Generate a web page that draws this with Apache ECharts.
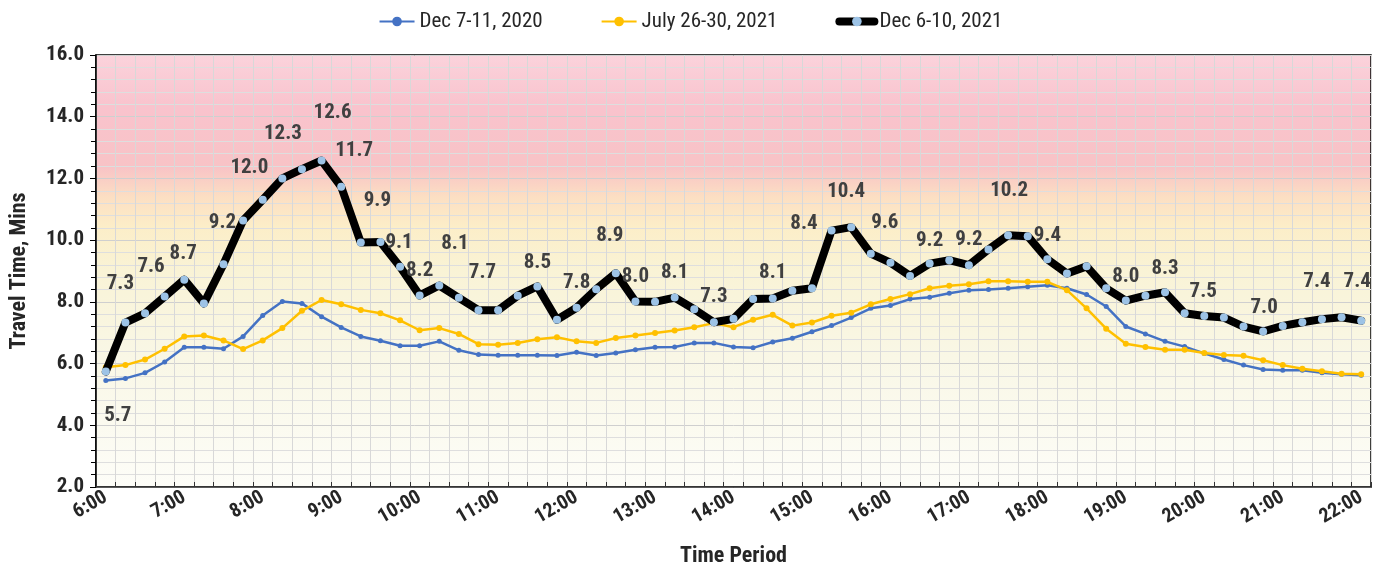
<!DOCTYPE html>
<html>
<head>
<meta charset="utf-8">
<script src="https://cdn.jsdelivr.net/npm/echarts@6/dist/echarts.min.js"></script>
<style>
html,body{margin:0;padding:0;background:#fff;}
#c{width:1381px;height:572px;}
</style>
</head>
<body>
<div id="c"></div>
<script>
const categories = [
"6:00","6:15","6:30","6:45","7:00","7:15","7:30","7:45",
"8:00","8:15","8:30","8:45","9:00","9:15","9:30","9:45",
"10:00","10:15","10:30","10:45","11:00","11:15","11:30","11:45",
"12:00","12:15","12:30","12:45","13:00","13:15","13:30","13:45",
"14:00","14:15","14:30","14:45","15:00","15:15","15:30","15:45",
"16:00","16:15","16:30","16:45","17:00","17:15","17:30","17:45",
"18:00","18:15","18:30","18:45","19:00","19:15","19:30","19:45",
"20:00","20:15","20:30","20:45","21:00","21:15","21:30","21:45","22:00"];

const seriesNames = ["Dec 7-11, 2020", "July 26-30, 2021", "Dec 6-10, 2021"];

const dec2020 = [
5.45,5.52,5.70,6.05,6.53,6.53,6.48,6.88,
7.56,8.01,7.95,7.52,7.17,6.88,6.74,6.58,
6.58,6.72,6.43,6.29,6.27,6.27,6.27,6.26,
6.37,6.26,6.34,6.45,6.53,6.54,6.67,6.67,
6.54,6.51,6.70,6.82,7.03,7.23,7.49,7.79,
7.88,8.09,8.15,8.28,8.38,8.40,8.44,8.49,
8.54,8.44,8.24,7.85,7.20,6.96,6.72,6.55,
6.33,6.13,5.95,5.81,5.78,5.78,5.70,5.65,5.62];

const jul2021 = [
5.88,5.95,6.13,6.48,6.88,6.91,6.75,6.47,
6.75,7.15,7.71,8.06,7.92,7.74,7.63,7.40,
7.08,7.15,6.96,6.63,6.61,6.67,6.79,6.85,
6.72,6.67,6.83,6.91,6.99,7.07,7.18,7.31,
7.18,7.42,7.58,7.23,7.33,7.55,7.65,7.92,
8.09,8.25,8.44,8.52,8.57,8.67,8.67,8.65,
8.65,8.38,7.79,7.13,6.64,6.54,6.45,6.45,
6.34,6.28,6.25,6.11,5.95,5.83,5.75,5.67,5.65];

const dec2021 = [
5.74,7.33,7.63,8.17,8.72,7.95,9.22,10.64,
11.31,12.0,12.3,12.58,11.73,9.92,9.94,9.14,
8.21,8.53,8.13,7.73,7.73,8.2,8.5,7.42,
7.81,8.41,8.93,8.01,8.0,8.14,7.76,7.34,
7.45,8.09,8.11,8.36,8.44,10.31,10.42,9.56,
9.27,8.84,9.24,9.35,9.19,9.70,10.16,10.13,
9.38,8.92,9.15,8.44,8.04,8.20,8.31,7.63,
7.54,7.49,7.20,7.04,7.22,7.34,7.44,7.50,7.39];

const yTicks = [2, 16, 2]; // min, max, interval

// indices of the Dec 6-10, 2021 points that carry a value label
const labelledPoints = [0,1,2,4,6,9,10,11,12,14,15,16,18,19,22,24,26,27,29,31,34,36,38,39,42,44,46,48,52,54,56,59,62,64];

// label nudges (style only): [dx, dy] from the point centre
const labelNudge = {
  0:[12,44],1:[-5,-39],2:[6,-47],4:[-1,-26],6:[-1,-41],9:[-33,-11],10:[-19,-35],
  11:[11,-48],12:[13,-36],14:[-3,-41],15:[-1,-24],16:[0,-25],18:[-4,-54],19:[4,-37],
  22:[0,-24],24:[0,-25],26:[-6,-37],27:[0,-25],29:[0,-25],31:[0,-25],34:[0,-26],
  36:[-8,-65],38:[-5,-35],39:[14,-31],42:[0,-23],44:[0,-25],46:[1,-44],48:[0,-24],
  52:[0,-24],54:[0,-24],56:[-1,-24],59:[1,-24],62:[-5,-37],64:[-4,-39]
};

const FONT = "'Liberation Sans Narrow','Roboto Condensed','Liberation Sans',Lato,sans-serif";

const chart = echarts.init(document.getElementById('c'), null, {renderer:'canvas'});

const blackData = dec2021.map((v, i) => {
  if (labelledPoints.indexOf(i) >= 0) {
    return {
      value: v,
      label: {
        show: true,
        position: 'inside',
        offset: labelNudge[i] || [0,-25],
        formatter: p => Number(p.value).toFixed(1),
        fontFamily: FONT, fontWeight: 'bold', fontSize: 21, color: '#404040'
      }
    };
  }
  return v;
});

const option = {
  backgroundColor: '#ffffff',
  animation: false,
  legend: {
    top: 6,
    left: 'center',
    itemWidth: 35,
    itemHeight: 12,
    itemGap: 58,
    textStyle: {fontFamily: FONT, fontSize: 21, color: '#262626'},
    data: [
      {name: seriesNames[0]},
      {name: seriesNames[1]},
      {name: seriesNames[2], lineStyle: {width: 8, color: '#000'}, itemStyle: {color: '#9DC3E6'}}
    ]
  },
  grid: {
    left: 93, right: 10, top: 55, bottom: 82,
    show: true,
    borderColor: '#000',
    borderWidth: 1.5,
    backgroundColor: new echarts.graphic.LinearGradient(0, 0, 0, 1, [
      {offset: 0, color: '#FBD3DC'},
      {offset: 0.12, color: '#F9C3CD'},
      {offset: 0.26, color: '#F8C3C6'},
      {offset: 0.33, color: '#FCDFC3'},
      {offset: 0.40, color: '#FCEEC8'},
      {offset: 0.50, color: '#F9F3D6'},
      {offset: 0.70, color: '#F9F7E6'},
      {offset: 1, color: '#FDFDF8'}
    ])
  },
  xAxis: {
    type: 'category',
    data: categories,
    boundaryGap: true,
    name: 'Time Period',
    nameLocation: 'middle',
    nameGap: 58,
    nameTextStyle: {fontFamily: FONT, fontWeight: 'bold', fontSize: 22, color: '#262626'},
    axisLine: {lineStyle: {color: '#333', width: 1.5}},
    axisTick: {show: true, interval: 0, inside: true, length: 5, lineStyle: {color: '#333'}},
    axisLabel: {
      interval: 3,
      rotate: 30,
      margin: 9,
      fontFamily: FONT, fontWeight: 'bold', fontSize: 20, color: '#262626'
    },
    splitLine: {show: true, interval: 0, lineStyle: {color: '#D8D8D8', width: 1}}
  },
  yAxis: {
    type: 'value',
    min: yTicks[0], max: yTicks[1], interval: yTicks[2],
    name: 'Travel Time, Mins',
    nameLocation: 'middle',
    nameGap: 66,
    nameTextStyle: {fontFamily: FONT, fontWeight: 'bold', fontSize: 22, color: '#262626'},
    axisLine: {show: true, lineStyle: {color: '#000', width: 1.5}},
    axisTick: {show: true, length: 6, lineStyle: {color: '#000'}},
    minorTick: {show: true, splitNumber: 5, length: 5, lineStyle: {color: '#000'}},
    axisLabel: {
      formatter: v => v.toFixed(1),
      margin: 12,
      fontFamily: FONT, fontWeight: 'bold', fontSize: 21, color: '#262626'
    },
    splitLine: {show: true, lineStyle: {color: '#CFCFCF', width: 1}},
    minorSplitLine: {show: true, lineStyle: {color: '#DEDEDE', width: 1}}
  },
  series: [
    {
      name: seriesNames[0], type: 'line', data: dec2020,
      symbol: 'circle', symbolSize: 5,
      itemStyle: {color: '#4472C4'},
      lineStyle: {color: '#4472C4', width: 2.5},
      z: 3
    },
    {
      name: seriesNames[1], type: 'line', data: jul2021,
      symbol: 'circle', symbolSize: 6,
      itemStyle: {color: '#FFC000'},
      lineStyle: {color: '#FFC000', width: 2.5},
      z: 4
    },
    {
      name: seriesNames[2], type: 'line', data: blackData,
      symbol: 'circle', symbolSize: 8,
      itemStyle: {color: '#9DC3E6', borderWidth: 0},
      lineStyle: {color: '#000', width: 8, cap: 'round', join: 'round'},
      z: 5
    }
  ]
};
chart.setOption(option);
</script>
</body>
</html>
